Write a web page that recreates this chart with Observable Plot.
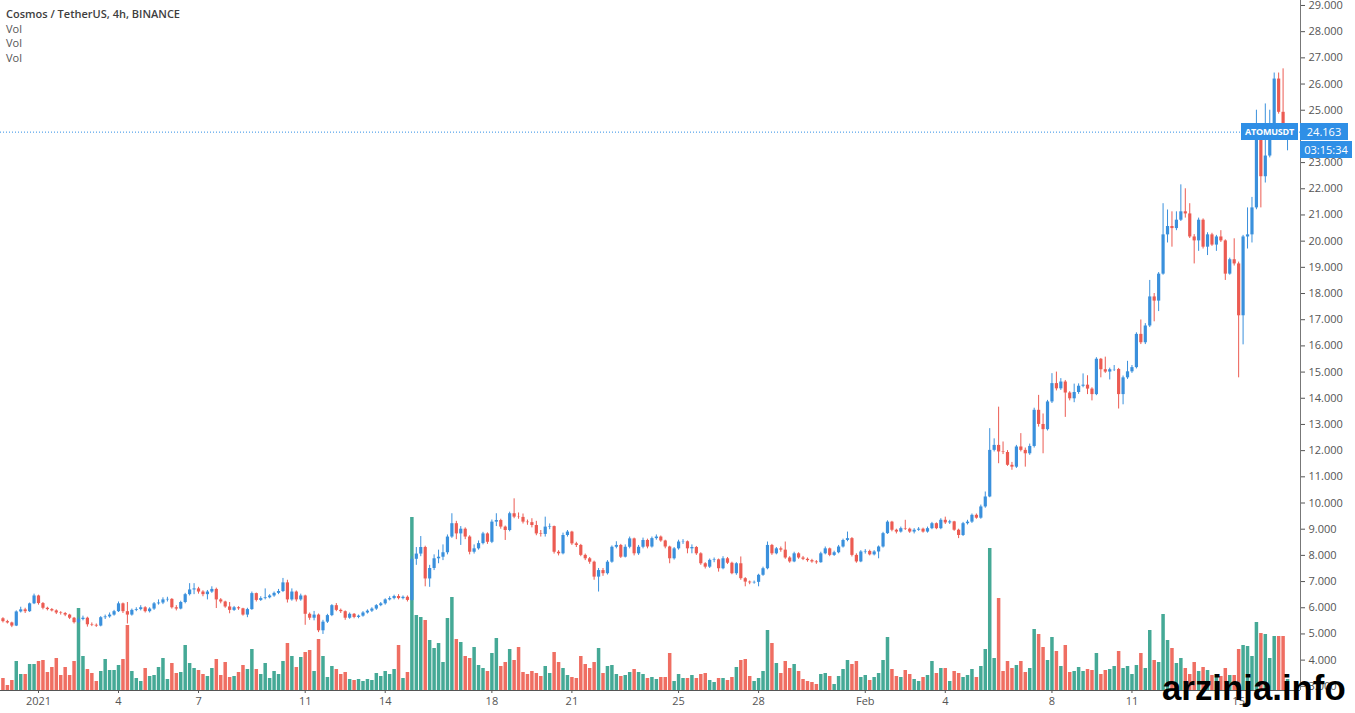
<!DOCTYPE html>
<html>
<head>
<meta charset="utf-8">
<script src="https://cdn.jsdelivr.net/npm/d3@7"></script>
<script src="https://cdn.jsdelivr.net/npm/@observablehq/plot@0.6"></script>
<style>
  html, body { margin: 0; padding: 0; background: #fff; }
  #wrap { position: relative; width: 1355px; height: 713px; overflow: hidden; font-family: "Open Sans", "Noto Sans", sans-serif; }
  #wrap svg { position: absolute; left: 0; top: 0; }
  .hdr { position: absolute; left: 6px; font-size: 11px; color: #555; line-height: 14px; }
  .hdr.t { font-weight: 600; color: #3e3e3e; }
  .tag { position: absolute; background: #2f8fe6; color: #fff; font-size: 11px; line-height: 17px; height: 17px; text-align: center; white-space: nowrap; overflow: hidden; }
  #wm { position: absolute; left: 1162px; top: 668px; font-family: "Liberation Sans", Arial, sans-serif; font-weight: 700; font-size: 34.8px; line-height: 40px; color: #000; white-space: nowrap; }
</style>
</head>
<body>
<div id="wrap"></div>
<script>
// ---- data (4h candles, ATOM/USDT, Binance) ----
const startTime = Date.UTC(2020, 11, 30, 16); // first visible candle
const firstOpen = 5.58;
const closes = [
  5.47,5.42,5.30,5.84,5.92,5.85,6.15,6.45,6.16,5.98,5.93,5.88,5.80,5.78,5.72,5.60,5.43,5.55,5.60,5.35,
  5.33,5.30,5.62,5.65,5.72,5.85,6.15,5.85,5.72,5.90,5.93,6.00,5.85,5.95,6.15,6.18,6.30,6.32,6.00,5.95,
  6.20,6.50,6.68,6.72,6.60,6.50,6.60,6.70,6.30,6.22,6.03,5.90,6.00,5.96,5.72,5.93,6.54,6.28,6.35,6.38,
  6.45,6.55,6.62,6.95,6.30,6.60,6.30,6.45,5.75,5.60,5.72,5.12,5.45,5.70,6.08,5.90,5.85,5.60,5.75,5.63,
  5.68,5.80,5.87,5.95,6.08,6.15,6.30,6.35,6.43,6.35,6.40,6.28,7.85,8.05,8.30,7.10,7.50,7.87,7.93,8.10,
  8.70,9.21,8.82,9.00,8.70,8.12,8.25,8.45,8.82,8.50,9.27,9.33,9.08,8.95,9.59,9.46,9.45,9.27,9.25,9.14,
  8.82,8.80,9.08,9.10,8.12,8.06,8.76,8.89,8.44,8.38,8.00,7.87,7.74,7.17,7.42,7.30,7.74,8.31,8.38,7.93,
  8.31,8.63,8.06,8.31,8.57,8.32,8.64,8.70,8.55,8.32,7.87,8.25,8.51,8.52,8.25,8.30,8.06,7.68,7.55,7.81,
  7.83,7.49,7.87,7.70,7.30,7.68,7.11,6.98,6.95,6.97,7.24,7.49,8.38,8.06,8.25,8.20,7.90,7.75,8.06,7.90,
  7.85,7.80,7.75,7.72,8.06,8.25,8.00,8.10,8.32,8.57,8.64,8.00,7.75,8.13,8.15,8.02,8.13,8.32,8.83,9.27,
  8.96,8.89,9.02,9.00,8.89,8.96,9.00,8.89,9.02,9.21,9.02,9.34,9.24,9.28,8.96,8.76,9.21,9.27,9.53,9.42,
  9.85,10.23,12.01,12.20,11.95,11.93,11.44,11.37,12.14,12.01,11.88,12.16,13.54,13.00,12.80,13.86,14.56,14.36,14.62,14.20,
  13.98,14.22,14.46,14.50,14.35,14.14,15.49,15.09,15.00,15.09,15.10,14.14,14.78,15.01,15.17,16.44,16.12,16.76,17.87,17.71,
  18.74,20.24,20.56,20.48,20.80,21.12,21.04,20.16,20.01,20.80,19.77,20.24,19.85,20.16,20.01,18.74,19.29,19.13,17.15,20.16,
  20.24,21.27,23.97,22.46,23.25,24.36,26.19,24.92,24.05,24.163
];
const highs = [
  5.62,5.52,5.45,5.88,6.02,5.98,6.18,6.52,6.48,6.20,6.02,5.97,5.92,5.85,5.82,5.75,5.63,5.62,5.68,5.64,
  5.42,5.38,5.66,5.72,5.80,5.90,6.22,6.18,6.20,5.95,6.00,6.08,6.04,6.00,6.20,6.30,6.38,6.40,6.35,6.08,
  6.25,6.55,6.92,6.92,6.78,6.65,6.66,6.80,6.75,6.35,6.25,6.20,6.05,6.04,5.98,5.98,6.60,6.56,6.42,6.72,
  6.50,6.60,6.70,7.12,7.05,6.72,6.64,6.52,6.48,5.80,5.86,5.76,5.52,5.75,6.12,6.16,5.95,5.88,5.80,5.78,
  5.72,5.85,5.92,6.00,6.12,6.20,6.34,6.42,6.48,6.50,6.45,6.45,7.95,8.30,8.72,8.35,7.62,8.02,8.20,8.40,
  8.78,9.59,9.30,9.10,9.05,8.75,8.40,8.55,8.88,8.86,9.35,9.59,9.38,9.12,9.65,10.16,9.62,9.58,9.35,9.40,
  9.30,8.95,9.46,9.20,9.12,8.18,8.85,8.95,8.92,8.50,8.42,8.05,7.92,7.78,7.50,7.50,7.80,8.36,8.52,8.42,
  8.40,8.70,8.66,8.38,8.66,8.62,8.70,8.78,8.74,8.58,8.35,8.30,8.58,8.60,8.55,8.40,8.34,8.10,7.72,7.86,
  7.90,7.86,7.95,7.92,7.74,7.72,7.94,7.15,7.02,7.02,7.28,7.55,8.51,8.42,8.30,8.32,8.51,7.95,8.12,8.10,
  7.96,7.90,7.85,7.80,8.12,8.32,8.28,8.16,8.38,8.62,8.89,8.68,8.06,8.18,8.22,8.20,8.18,8.36,8.88,9.32,
  9.30,9.00,9.08,9.34,9.04,9.02,9.06,9.04,9.08,9.26,9.24,9.40,9.46,9.34,9.30,9.00,9.26,9.34,9.58,9.58,
  9.92,10.42,12.84,12.45,13.66,12.33,12.00,11.55,12.20,12.65,12.10,12.25,13.62,14.11,13.40,13.92,14.94,15.00,14.75,14.68,
  14.25,14.54,14.55,14.93,14.86,14.40,15.55,15.52,15.57,15.15,15.25,15.14,14.85,15.41,15.25,16.50,16.99,16.85,18.50,18.00,
  18.80,21.43,21.19,21.12,21.12,22.15,22.00,21.43,20.25,20.88,20.85,20.32,20.30,20.22,20.40,20.05,19.35,20.09,19.20,20.22,
  21.27,21.67,25.00,24.05,25.24,25.00,26.42,26.42,26.58,24.35
];
const lows = [
  5.42,5.38,5.24,5.28,5.80,5.78,5.82,6.12,6.10,5.92,5.88,5.84,5.74,5.72,5.66,5.55,5.38,5.40,5.50,5.26,
  5.28,5.25,5.27,5.55,5.60,5.68,5.82,5.78,5.38,5.68,5.85,5.88,5.80,5.80,5.90,6.10,6.12,6.22,5.95,5.88,
  5.92,6.15,6.45,6.50,6.52,6.42,6.30,6.55,5.97,6.15,5.98,5.77,5.86,5.90,5.68,5.62,5.90,6.22,6.24,6.30,
  6.34,6.40,6.50,6.58,6.18,6.25,6.22,6.25,5.33,5.52,5.50,5.05,4.98,5.40,5.66,5.85,5.78,5.52,5.56,5.58,
  5.58,5.64,5.76,5.82,5.90,6.04,6.10,6.26,6.30,6.30,6.30,6.22,6.25,7.62,7.95,6.80,6.78,7.42,7.68,7.80,
  8.02,8.65,8.60,8.38,8.60,8.02,8.05,8.20,8.40,8.42,8.45,9.10,9.00,8.57,8.90,9.40,9.38,9.20,9.15,9.05,
  8.75,8.70,8.70,8.98,8.05,7.98,8.02,8.70,8.38,8.30,7.95,7.80,7.66,7.05,6.60,7.20,7.25,7.70,8.25,7.88,
  7.90,8.25,7.98,8.00,8.25,8.25,8.28,8.58,8.50,8.25,7.68,7.82,8.20,8.42,8.06,8.06,8.00,7.62,7.48,7.50,
  7.72,7.36,7.45,7.65,7.26,7.24,7.05,6.80,6.88,6.90,6.80,7.20,7.45,8.00,8.02,8.12,7.85,7.70,7.72,7.85,
  7.80,7.74,7.70,7.66,7.70,8.02,7.95,7.96,8.06,8.28,8.52,7.94,7.70,7.72,8.05,7.98,7.98,7.87,8.28,8.80,
  8.90,8.82,8.85,8.95,8.84,8.82,8.92,8.85,8.85,8.98,8.98,8.98,9.18,9.18,8.92,8.64,8.72,9.16,9.22,9.38,
  9.38,9.80,10.20,11.95,11.50,11.85,11.40,11.25,11.32,11.95,11.37,11.82,12.10,12.90,11.88,12.75,13.80,14.28,14.30,13.27,
  13.90,13.83,14.15,14.40,14.14,13.90,14.10,14.78,14.95,14.70,15.02,13.59,13.75,14.72,14.95,15.12,16.05,16.05,16.70,16.92,
  17.31,18.70,19.93,19.77,20.40,20.75,20.88,20.10,19.13,19.61,19.70,19.45,19.80,19.61,19.95,18.50,18.70,19.05,14.78,16.04,
  19.70,19.93,21.20,21.27,22.22,23.18,24.30,24.85,23.95,23.45
];
const volumes = [ // thousand ATOM per candle
  120,50,100,290,160,160,260,260,290,300,180,230,320,150,230,150,290,820,340,210,
  170,90,190,310,200,200,250,310,650,190,120,90,220,140,150,230,320,110,270,170,
  180,450,270,220,200,160,140,220,310,150,280,130,140,180,250,210,410,210,160,270,
  120,190,160,290,470,340,230,330,380,400,190,510,340,130,240,210,160,180,110,100,
  110,90,110,100,170,140,190,160,210,450,120,180,1730,750,730,700,500,420,470,280,
  720,930,510,480,340,320,430,250,220,190,370,520,240,280,410,300,430,180,160,190,
  170,140,240,170,380,280,220,150,130,120,340,260,220,280,420,170,240,250,160,140,
  150,180,210,180,160,120,130,110,130,130,370,90,160,120,120,150,120,160,170,100,
  80,120,120,100,130,230,300,310,140,90,120,190,600,470,270,170,290,220,260,190,
  110,90,80,60,160,170,140,60,140,210,300,260,290,130,150,100,130,170,300,530,
  210,140,130,200,160,110,90,130,150,290,170,220,220,90,190,170,130,150,210,130,
  240,410,1420,320,920,190,290,220,250,290,180,220,610,560,430,300,530,390,240,450,
  180,190,230,190,210,200,370,160,200,210,240,390,220,240,160,250,370,220,600,300,
  280,760,500,420,270,320,220,160,280,190,230,200,150,160,140,220,150,150,410,450,
  440,340,680,570,560,320,540,540,540,110
];
const tickDates = ["2021-01-01","2021-01-04","2021-01-07","2021-01-11","2021-01-14","2021-01-18","2021-01-21",
                   "2021-01-25","2021-01-28","2021-02-01","2021-02-04","2021-02-08","2021-02-11","2021-02-15"];
const tickLabels = ["2021","4","7","11","14","18","21","25","28","Feb","4","8","11","15"];
const priceTicks = [3,4,5,6,7,8,9,10,11,12,13,14,15,16,17,18,19,20,21,22,23,24,25,26,27,28,29];
const lastPrice = 24.163;
const symbol = "ATOMUSDT";
const countdown = "03:15:34";
const headerLines = ["Cosmos / TetherUS, 4h, BINANCE", "Vol", "Vol", "Vol"];

// ---- styles ----
const UP = "#3a90dc", DOWN = "#ec5b52";
const VUP = "#45a996", VDOWN = "#ef6e62";
const W = 1355, H = 713;
const xDomain = [new Date(Date.UTC(2020, 11, 30, 13, 48)), new Date(Date.UTC(2021, 1, 17, 7, 40))];
const yDomain = [2.84, 29.19];
const volTop = 6900;

const candles = closes.map((c, i) => {
  const open = i === 0 ? firstOpen : closes[i - 1];
  return {t: new Date(startTime + i * 4 * 3600 * 1000), open, close: c, high: highs[i], low: lows[i], volume: volumes[i], up: c >= open};
});
const ups = candles.filter(d => d.up), downs = candles.filter(d => !d.up);
const tickTimes = tickDates.map(s => new Date(s + "T00:00:00Z"));
const labelOf = new Map(tickTimes.map((d, i) => [+d, tickLabels[i]]));

const common = {width: W, height: H, marginLeft: 0, marginRight: 55, marginTop: 0, marginBottom: 23};

const volChart = Plot.plot({
  ...common,
  style: {background: "transparent"},
  x: {type: "utc", domain: xDomain, axis: null},
  y: {domain: [0, volTop], axis: null},
  marks: [
    Plot.ruleX(ups, {x: "t", y1: 0, y2: "volume", stroke: VUP, strokeWidth: 3.5}),
    Plot.ruleX(downs, {x: "t", y1: 0, y2: "volume", stroke: VDOWN, strokeWidth: 3.5})
  ]
});

const priceChart = Plot.plot({
  ...common,
  style: {background: "transparent", fontSize: "11px", fontFamily: "'Open Sans', sans-serif", color: "#555", overflow: "visible"},
  x: {type: "utc", domain: xDomain, ticks: tickTimes, tickFormat: d => labelOf.get(+d), tickSize: 3, tickPadding: 4, label: null},
  y: {domain: yDomain, axis: "right", ticks: priceTicks, tickFormat: d => d.toFixed(3), tickSize: 4, tickPadding: 4, label: null},
  marks: [
    Plot.ruleY([lastPrice], {stroke: "#2f8fe6", strokeWidth: 1, strokeDasharray: "1,2"}),
    Plot.ruleX(ups, {x: "t", y1: "low", y2: "high", stroke: UP, strokeWidth: 1}),
    Plot.ruleX(downs, {x: "t", y1: "low", y2: "high", stroke: DOWN, strokeWidth: 1}),
    Plot.ruleX(ups, {x: "t", y1: "open", y2: "close", stroke: UP, strokeWidth: 3.2}),
    Plot.ruleX(downs, {x: "t", y1: "open", y2: "close", stroke: DOWN, strokeWidth: 3.2}),
    Plot.ruleY([yDomain[0]], {stroke: "#555", strokeWidth: 1}),
    Plot.ruleX([xDomain[1]], {stroke: "#777", strokeWidth: 1})
  ]
});

const wrap = document.getElementById("wrap");
wrap.appendChild(volChart);
wrap.appendChild(priceChart);

headerLines.forEach((txt, i) => {
  const d = document.createElement("div");
  d.className = "hdr" + (i === 0 ? " t" : "");
  d.style.top = (7 + i * 14.5) + "px";
  d.textContent = txt;
  wrap.appendChild(d);
});

const yPix = priceChart.scale("y").apply(lastPrice);
const xRight = priceChart.scale("x").apply(xDomain[1]);
function tag(text, left, top, width, bold) {
  const d = document.createElement("div");
  d.className = "tag";
  d.style.left = left + "px"; d.style.top = top + "px"; d.style.width = width + "px";
  if (bold) { d.style.fontWeight = "700"; d.style.fontSize = "9px"; d.style.letterSpacing = "-0.2px"; }
  d.textContent = text;
  wrap.appendChild(d);
}
tag(symbol, xRight - 59, yPix - 8.5, 57, true);
tag(lastPrice.toFixed(3), xRight, yPix - 8.5, 48, false);
tag(countdown, xRight, yPix + 9.5, 52, false);

const wm = document.createElement("div");
wm.id = "wm"; wm.textContent = "arzinja.info";
wrap.appendChild(wm);
</script>
</body>
</html>
